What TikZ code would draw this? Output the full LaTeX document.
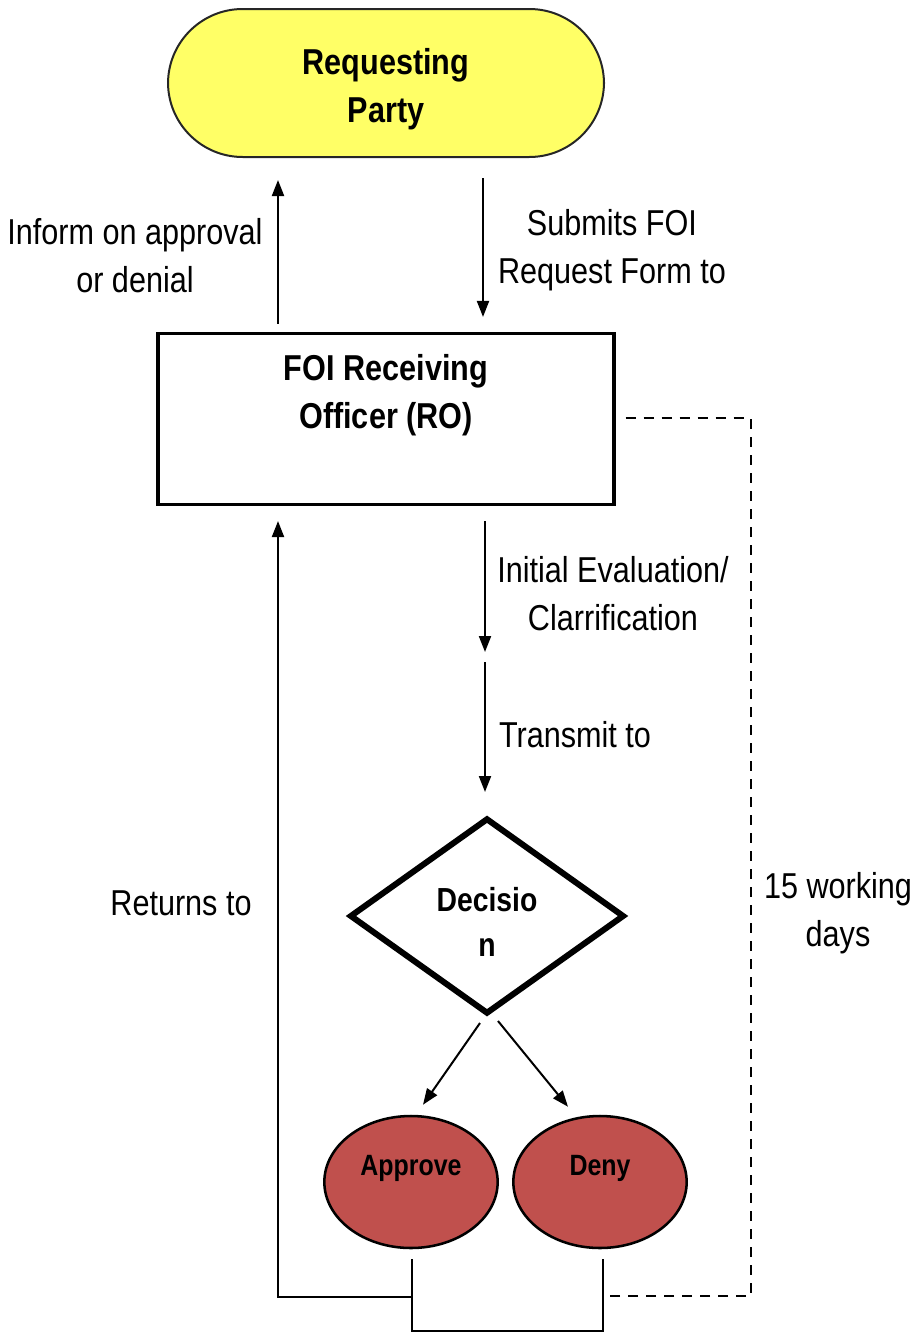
\documentclass[tikz,border=0pt]{standalone}
\usepackage{fontspec}
\setmainfont{Liberation Sans}[FakeStretch=0.85]
\usetikzlibrary{arrows.meta,positioning,calc,shapes.geometric}
\definecolor{partyyellow}{HTML}{FFFF66}
\definecolor{choicered}{HTML}{C0504D}

\begin{document}
\begin{tikzpicture}[>={Triangle[length=12pt,width=9pt]},x=0.75pt,y=-0.75pt]
  \tikzstyle{lbl}=[align=center,inner sep=0pt,font=\fontsize{27}{36}\selectfont]
  \tikzstyle{heading}=[align=center,inner sep=0pt,font=\fontsize{27}{36}\selectfont\bfseries]
  \tikzstyle{party}=[draw=black!85,line width=1.5pt,fill=partyyellow,rounded corners=56pt,minimum width=327pt,minimum height=111pt]
  \tikzstyle{officebox}=[draw,line width=2.6pt,minimum width=342pt,minimum height=128pt]
  \tikzstyle{decide}=[diamond,draw,line width=4.5pt,inner sep=0pt,minimum width=206pt,minimum height=147pt,align=center,font=\fontsize{25}{34}\selectfont\bfseries]
  \tikzstyle{choice}=[ellipse,draw,line width=1.9pt,fill=choicered,minimum width=130pt,minimum height=99pt]
  \tikzstyle{choicetext}=[inner sep=0pt,font=\fontsize{22}{26}\selectfont\bfseries]
  \tikzstyle{flow}=[line width=1.5pt,->]
  \tikzstyle{link}=[line width=1.5pt]
  \tikzstyle{deadline}=[line width=1.6pt,dash pattern=on 7.5pt off 6pt]
  \useasboundingbox (0,0) rectangle (917,1335);

  \node[party] (party) at (386,83) {};
  \node[heading] (partytext) at (386,89) {Requesting\\Party};
  \node[officebox] (ro) at (386,419) {};
  \node[heading] (rotext) at (386,395) {FOI Receiving\\Officer (RO)};
  \node[decide] (decision) at (487,916) {};
  \node[heading,font=\fontsize{25}{34}\selectfont\bfseries] (decisiontext) at (487,922) {Decisio\\n};
  \node[choice] (approve) at (411,1182) {};
  \node[choice] (deny) at (600,1182) {};
  \node[choicetext] (approvetext) at (411,1168) {Approve};
  \node[choicetext] (denytext) at (600,1168) {Deny};
  \coordinate (relay) at (487,657);
  \coordinate (join) at (412,1297);

  % party <-> receiving officer
  \draw[flow] ($(ro.north)+(-108,-8)$) -- ($(party.south)+(-108,22)$);
  \draw[flow] ($(party.south)+(97,20)$) -- ($(ro.north)+(97,-15)$);
  \node[lbl] (informlbl) at (135,256) {Inform on approval\\or denial};
  \node[lbl] (submitlbl) at (612,250) {Submits FOI\\Request Form to};

  % evaluation and transmittal
  \draw[flow] ($(ro.south -| relay)+(-2,15)$) -- ($(relay)+(-2,-5)$);
  \draw[flow] ($(relay)+(-2,5)$) -- ($(decision.north)+(-2,-23)$);
  \node[lbl] (evallbl) at (613,594) {Initial Evaluation/\\Clarrification};
  \node[lbl] (transmitlbl) at (575,735) {Transmit to};

  % decision outcomes
  \draw[flow] ($(decision.south)+(-7,6)$) -- ($(approve.north)+(12,-10)$);
  \draw[flow] ($(decision.south)+(11,4)$) -- ($(deny.north)+(-32,-8)$);

  % return to the receiving officer
  \draw[link] ($(approve.south)+(1,10)$) -- ($(approve.south)+(1,82)$) -| ($(deny.south)+(3,10)$);
  \draw[flow] (join) -| ($(ro.south)+(-108,15)$);
  \node[lbl] (returnlbl) at (181,903) {Returns to};

  % time limit
  \draw[deadline] ($(ro.east)+(10,-1)$) -- ++(125,0) |- ($(deny.south)+(10,47)$);
  \node[lbl] (dayslbl) at (838,913) {15 working\\days};
\end{tikzpicture}
\end{document}
